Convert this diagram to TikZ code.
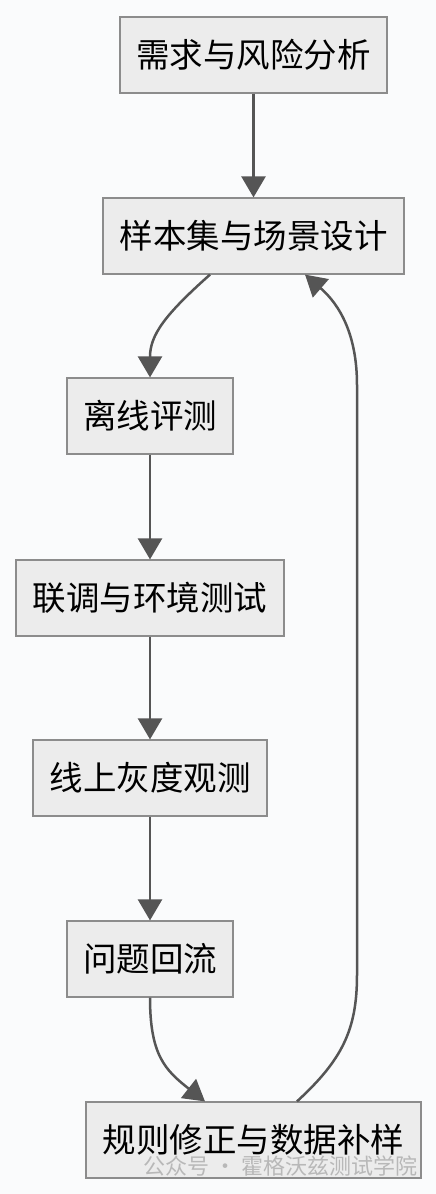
\documentclass[tikz,border=0pt]{standalone}
\usepackage{fontspec}
\setmainfont{Noto Sans CJK SC}
\newfontfamily\cjk{Noto Sans CJK SC}
\usetikzlibrary{arrows.meta}
\definecolor{bgc}{HTML}{FAFBFC}
\definecolor{boxfill}{HTML}{ECECEC}
\definecolor{boxline}{HTML}{8C8C8C}
\definecolor{arr}{HTML}{555555}
\definecolor{wm}{HTML}{B8B8B8}
\begin{document}
\begin{tikzpicture}[x=1pt,y=-1pt,
  stepbox/.style={draw=boxline,line width=1.2pt,fill=boxfill,minimum height=76pt,
    inner sep=0pt,font=\cjk\fontsize{33.5}{38}\selectfont,text=black},
  flow/.style={draw=arr,line width=2.5pt,-{Triangle[length=21pt,width=24pt]}}]
\fill[bgc] (0,0) rectangle (436,1194);
\useasboundingbox (0,0) rectangle (436,1194);
\node[stepbox,minimum width=267pt] (n1) at (253.5,55) {需求与风险分析};
\node[stepbox,minimum width=301pt] (n2) at (253.5,236) {样本集与场景设计};
\node[stepbox,minimum width=166pt] (n3) at (150,416) {离线评测};
\node[stepbox,minimum width=268pt] (n4) at (150,598) {联调与环境测试};
\node[stepbox,minimum width=234pt] (n5) at (150,778) {线上灰度观测};
\node[stepbox,minimum width=166pt] (n6) at (150,959) {问题回流};
\node[stepbox,minimum width=335pt] (n7) at (253.5,1140) {规则修正与数据补样};
\node[font=\cjk\fontsize{22}{25}\selectfont,text=wm,anchor=west] (wmk) at (140,1166) {公众号 · 霍格沃兹测试学院};
\draw[flow] (n1.south) -- (n2.north);
\draw[flow] ([xshift=-43.5pt]n2.south) .. controls +(-45,40) and (150,335) .. (n3.north);
\draw[flow] (n3) -- (n4);
\draw[flow] (n4) -- (n5);
\draw[flow] (n5) -- (n6);
\draw[flow] (n6.south) .. controls (150,1055) and (165,1070) .. ([xshift=-48.5pt]n7.north);
\draw[flow] ([xshift=43.5pt]n7.north) .. controls (342,1060) and (357,1030) .. (357,975) -- (357,385) .. controls (357,335) and (340,305) .. ([xshift=51.5pt]n2.south);
\end{tikzpicture}
\end{document}
